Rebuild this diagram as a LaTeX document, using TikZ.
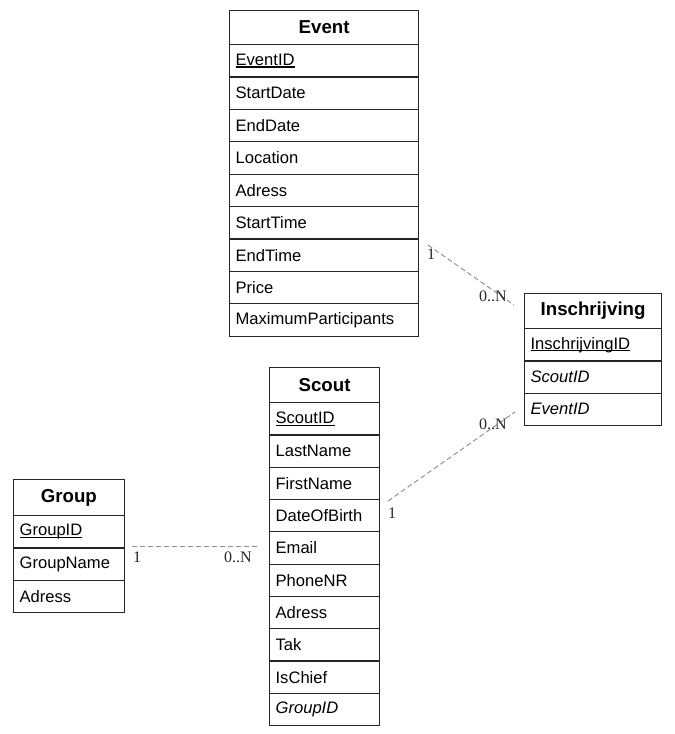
\documentclass[tikz,border=0pt]{standalone}
\usepackage{fontspec}
\setmainfont{Liberation Sans}
\newfontfamily\cardfont{Liberation Serif}
\newcommand\keyfield[1]{\setbox0\hbox{#1}\rlap{\vrule height -1pt depth 2.1pt width \wd0}\box0}
\begin{document}
\begin{tikzpicture}[x=1pt,y=-1pt,
  tbl/.style={draw=black!85, line width=1.2pt, fill=white, anchor=north west, inner sep=0pt},
  ttl/.style={tbl, font=\bfseries\fontsize{18.7}{22}\selectfont},
  fld/.style={tbl, font=\fontsize{16.6}{20}\selectfont, align=left, inner xsep=6pt, inner ysep=0pt},
  card/.style={font=\cardfont\fontsize{16}{18}\selectfont, inner sep=0pt, text=black!85},
  rel/.style={draw=black!45, dash pattern=on 5pt off 3pt, line width=0.9pt}]
\useasboundingbox[fill=white] (0,0) rectangle (675,734);

% Event
\node[ttl, minimum width=189, minimum height=34.5] (ev) at (229,9.5) {Event};
\foreach \t [count=\i] in {{\keyfield{EventID}},StartDate,EndDate,Location,Adress,StartTime,EndTime,Price,MaximumParticipants}
  \node[fld, text width=177, minimum height=32.4] (ev\i) at (229,{44+(\i-1)*32.4}) {\t};

% Inschrijving
\node[ttl, minimum width=137, minimum height=35] (in) at (524,293) {Inschrijving};
\foreach \t [count=\i] in {{\keyfield{InschrijvingID}},{\itshape ScoutID},{\itshape EventID}}
  \node[fld, text width=125, minimum height=32.3] (in\i) at (524,{328+(\i-1)*32.3}) {\t};

% Scout
\node[ttl, minimum width=110, minimum height=35] (sc) at (269,367) {Scout};
\foreach \t [count=\i] in {{\keyfield{ScoutID}},LastName,FirstName,DateOfBirth,Email,PhoneNR,Adress,Tak,IsChief,{\itshape GroupID}}
  \node[fld, text width=98, minimum height=32.3] (sc\i) at (269,{402+(\i-1)*32.3}) {\t};

% Group
\node[ttl, minimum width=110.5, minimum height=36] (gr) at (13,479) {Group};
\foreach \t [count=\i] in {{\keyfield{GroupID}},GroupName,Adress}
  \node[fld, text width=98.5, minimum height=32.3] (gr\i) at (13,{515+(\i-1)*32.3}) {\t};

% connector end points
\coordinate (a1) at (428,245);
\coordinate (a2) at (514,305);
\coordinate (b1) at (388,501);
\coordinate (b2) at (515,412);
\coordinate (c1) at (132,546);
\coordinate (c2) at (259,546);

\draw[rel] (a1) -- (a2);
\draw[rel] (b1) -- (b2);
\draw[rel] (c1) -- (c2);

\node[card] (la1) at (431,254) {1};
\node[card] (la2) at (493,296) {0..N};
\node[card] (lb2) at (493,424) {0..N};
\node[card] (lb1) at (392,513) {1};
\node[card] (lc1) at (137,557) {1};
\node[card] (lc2) at (238,557) {0..N};
\end{tikzpicture}
\end{document}
